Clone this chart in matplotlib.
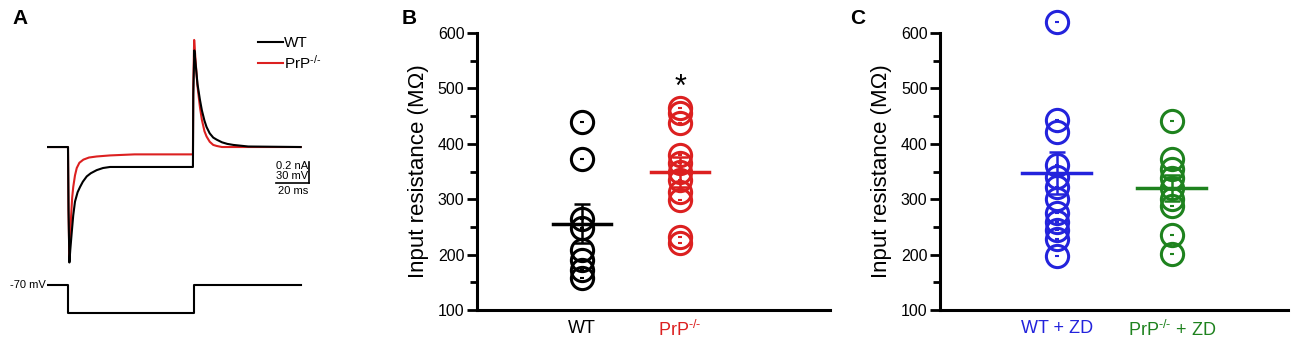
import numpy as np
import matplotlib
matplotlib.use('Agg')
import matplotlib.pyplot as plt

plt.rcParams['font.family'] = ['Liberation Sans', 'DejaVu Sans']
plt.rcParams['mathtext.default'] = 'regular'

RED = '#dc2020'
BLUE = '#2323dc'
GREEN = '#1e821e'

# ---- panel A: voltage-clamp traces ----
t_wt = [0, 12, 12.3, 12.8, 13.3, 14.1, 15, 16, 17.5, 18.9, 20.5, 22.7, 25, 28.4, 32, 36, 50, 83.4,
        83.6, 84.2, 85, 86, 87.4, 88.5, 90, 91.2, 93, 95, 97, 100, 103, 106.5, 115, 145]
i_wt = [0, 0, -0.6, -1.10, -0.98, -0.82, -0.65, -0.52, -0.43, -0.38, -0.33, -0.28, -0.25, -0.22, -0.20, -0.19, -0.19, -0.19,
        0.5, 0.92, 0.78, 0.60, 0.45, 0.35, 0.25, 0.19, 0.13, 0.09, 0.07, 0.045, 0.03, 0.02, 0.005, 0.0]
t_ko = [0, 12, 12.3, 12.8, 13.3, 13.8, 14.4, 15, 16, 17, 18.5, 20.8, 24, 28.4, 36, 50, 83.4,
        83.6, 84.1, 85, 86, 87.4, 88.5, 90, 91.2, 93, 95, 97, 100, 145]
i_ko = [0, 0, -0.6, -1.08, -0.85, -0.65, -0.48, -0.38, -0.27, -0.20, -0.15, -0.12, -0.10, -0.09, -0.08, -0.07, -0.07,
        0.6, 1.02, 0.80, 0.58, 0.38, 0.26, 0.15, 0.10, 0.05, 0.02, 0.01, 0.0, 0.0]
t_cmd = [0, 12, 12, 84, 84, 145]
v_cmd = [-70, -70, -110, -110, -70, -70]

# ---- panels B and C: input resistance (MOhm) ----
wt = [440, 372, 265, 248, 208, 190, 172, 158]
ko = [465, 455, 437, 380, 365, 350, 335, 313, 299, 232, 221]
wt_zd = [620, 443, 422, 362, 340, 322, 300, 275, 258, 244, 228, 197]
ko_zd = [442, 372, 355, 338, 320, 300, 288, 235, 201]
means_b = [256, 349]
sems_b = [35, 27]
means_c = [348, 320]
sems_c = [38, 24]
KO = 'PrP$^{\u2010/\u2010}$'
labels_b = ['WT', KO]
labels_c = ['WT + ZD', KO + ' + ZD']

W, H = 1300, 360
fig = plt.figure(figsize=(13, 3.6), dpi=100)


def px_axes(x0, y0, x1, y1):
    return fig.add_axes([x0 / W, 1 - y1 / H, (x1 - x0) / W, (y1 - y0) / H])


# current traces
axA = px_axes(47, 20, 310, 275)
axA.plot(t_ko, i_ko, color=RED, lw=1.5, label=KO)
axA.plot(t_wt, i_wt, color='black', lw=1.5, label='WT')
axA.set_xlim(0, 150.3)
axA.set_ylim(-1.219, 1.21)
axA.axis('off')
h, l = axA.get_legend_handles_labels()
axA.legend(h[::-1], l[::-1], loc='upper left', bbox_to_anchor=(0.78, 0.96),
           frameon=False, fontsize=11, handlelength=1.6, handletextpad=0.1,
           labelspacing=0.2, borderaxespad=0)
# scale bar: 20 ms, 0.2 nA / 30 mV
axA.plot([131, 150], [-0.34, -0.34], color='black', lw=1.2, clip_on=False)
axA.plot([150, 150], [-0.34, -0.14], color='black', lw=1.2, clip_on=False)
axA.text(149, -0.13, '0.2 nA', ha='right', va='top', fontsize=8)
axA.text(149, -0.23, '30 mV', ha='right', va='top', fontsize=8)
axA.text(140.5, -0.37, '20 ms', ha='center', va='top', fontsize=8)

# command voltage
axV = px_axes(47, 275, 310, 325)
axV.plot(t_cmd, v_cmd, color='black', lw=1.5)
axV.set_xlim(0, 150.3)
axV.set_ylim(-127.1, -55.7)
axV.axis('off')
axV.text(-0.5, -70, '-70 mV', ha='right', va='center', fontsize=8)


def scatter_panel(ax, groups, means, sems, colors, labels, xlim):
    for k, (vals, c) in enumerate(zip(groups, colors)):
        x = np.full(len(vals), k + 1)
        ax.plot(x, vals, 'o', ms=16, mfc='none', mec=c, mew=2.2, clip_on=False)
        ax.plot(x, vals, '_', ms=3, mew=1.5, color=c, clip_on=False)
        ax.plot([k + 1 - 0.3, k + 1 + 0.3], [means[k]] * 2, color=c, lw=2.5)
        ax.errorbar(k + 1, means[k], yerr=sems[k], color=c, lw=1.8,
                    capsize=6, capthick=1.8, fmt='none')
    ax.set_xlim(*xlim)
    ax.set_ylim(100, 600)
    ax.set_yticks([100, 200, 300, 400, 500, 600])
    ax.set_yticks(np.arange(150, 600, 100), minor=True)
    ax.set_xticks([1, 2])
    ax.set_xticklabels(labels, fontsize=13)
    for tl, c in zip(ax.get_xticklabels(), colors):
        tl.set_color(c)
    ax.tick_params(axis='x', length=0, pad=7)
    ax.tick_params(axis='y', which='major', length=7, width=2, labelsize=11.5, pad=2)
    ax.tick_params(axis='y', which='minor', length=5, width=2)
    for s in ['top', 'right']:
        ax.spines[s].set_visible(False)
    for s in ['left', 'bottom']:
        ax.spines[s].set_linewidth(2.2)
    ax.set_ylabel('Input resistance (M\u03a9)', fontsize=16, labelpad=6)


axB = px_axes(477, 33, 830, 310)
scatter_panel(axB, [wt, ko], means_b, sems_b, ['black', RED], labels_b, (-0.071, 3.53))
axB.text(2, 500, '*', ha='center', va='center', fontsize=22)

axC = px_axes(940, 33, 1288, 310)
scatter_panel(axC, [wt_zd, ko_zd], means_c, sems_c, [BLUE, GREEN], labels_c, (-0.017, 3.01))

fig.text(12 / W, 1 - 18 / H, 'A', fontsize=15, fontweight='bold', va='center')
fig.text(402 / W, 1 - 18 / H, 'B', fontsize=15, fontweight='bold', va='center')
fig.text(850 / W, 1 - 18 / H, 'C', fontsize=15, fontweight='bold', va='center')

fig.savefig('out.png', dpi=100)
